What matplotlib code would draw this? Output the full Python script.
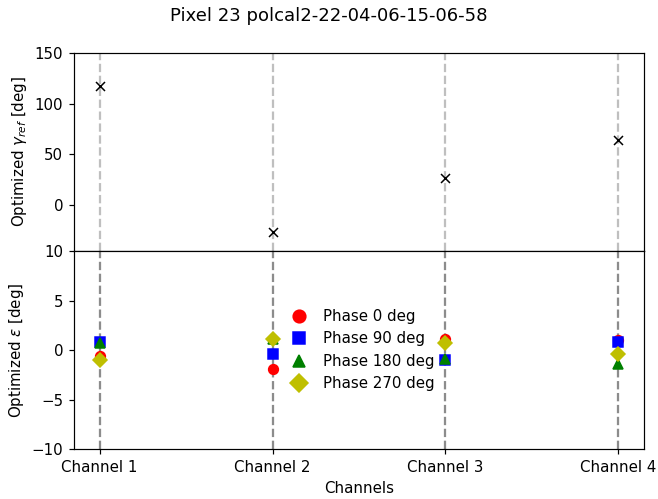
import matplotlib.pyplot as plt
import numpy as np

channels = ['Channel 1', 'Channel 2', 'Channel 3', 'Channel 4']
gamma_ref = [117, -27, 27, 64]

phases = ['Phase 0 deg', 'Phase 90 deg', 'Phase 180 deg', 'Phase 270 deg']
eps_0 = [-0.6, -1.9, 1.1, 1.0]
eps_90 = [0.8, -0.4, -1.0, 0.8]
eps_180 = [0.7, 1.1, -0.9, -1.4]
eps_270 = [-1.0, 1.1, 0.7, -0.4]

x = np.arange(len(channels))

fig, (ax1, ax2) = plt.subplots(2, 1, sharex=True, figsize=(658/108, 499/108), dpi=108)
fig.subplots_adjust(left=0.112, right=0.979, top=0.894, bottom=0.1, hspace=0)
fig.suptitle('Pixel 23 polcal2-22-04-06-15-06-58', fontsize=12, y=0.985)

# top: gamma ref
for xi in x:
    ax1.axvline(xi, color='gray', ls='--', alpha=0.5)
ax1.plot(x, gamma_ref, 'kx', ls='none', ms=6)
ax1.set_ylim(-45.5, 150)
ax1.set_ylabel(r'Optimized $\gamma_{ref}$ [deg]')
ax1.tick_params(axis='x', bottom=False)

# bottom: epsilon
for xi in x:
    ax2.axvline(xi, color='gray', ls='--', alpha=0.9)
ax2.plot(x, eps_0, 'ro', ms=6.5, label=phases[0])
ax2.plot(x, eps_90, 'bs', ms=6.5, label=phases[1])
ax2.plot(x, eps_180, 'g^', ms=6.5, label=phases[2])
ax2.plot(x, eps_270, 'yD', ms=6.5, label=phases[3])
ax2.set_ylim(-10, 10)
ax2.set_ylabel(r'Optimized $\epsilon$ [deg]')
ax2.set_xlabel('Channels')
ax2.set_xticks(x)
ax2.set_xticklabels(channels)
ax2.legend(loc='center', frameon=False, markerscale=1.3,
           handletextpad=0.6, labelspacing=0.5)

plt.savefig('out.png')
